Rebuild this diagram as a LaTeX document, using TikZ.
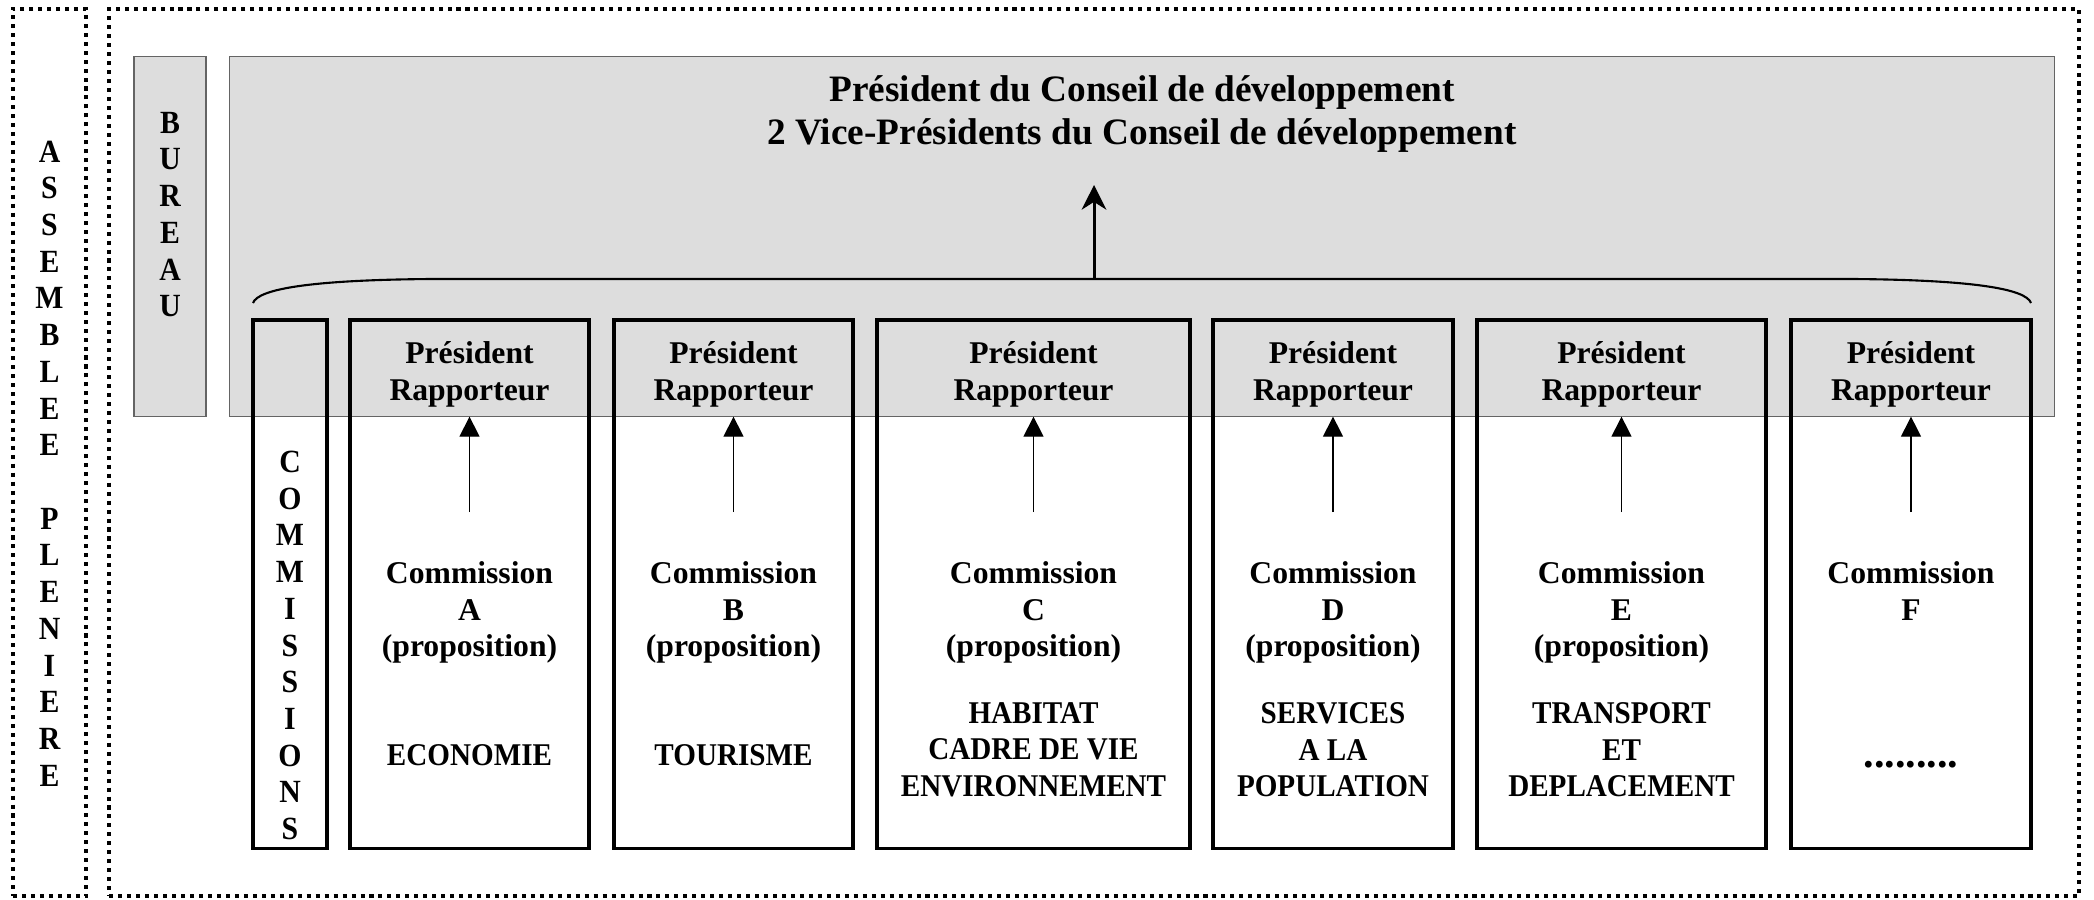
\documentclass[tikz,border=0pt]{standalone}
\usepackage{fontspec}
\setmainfont{Liberation Serif}
\newfontfamily\serifetroit[FakeStretch=0.92]{Liberation Serif}
\usetikzlibrary{arrows.meta}
\definecolor{grisfond}{RGB}{221,221,221}
\definecolor{grisbord}{RGB}{100,100,100}

\begin{document}
\begin{tikzpicture}[
  x=0.01cm, y=-0.01cm,
  cadre/.style={draw, line width=1.15pt, dash pattern=on 1.15pt off 1.4pt, minimum height=8.87cm, inner sep=0pt},
  gris/.style={draw=grisbord, line width=0.3pt, fill=grisfond, minimum height=3.59cm, inner sep=0pt},
  commbox/.style={draw, line width=0.95pt, minimum height=5.28cm, inner sep=0pt},
  lettres/.style={font=\fontsize{9.2}{10.44}\selectfont\serifetroit\bfseries, align=center, inner sep=0pt},
  texte/.style={font=\fontsize{9}{10.44}\selectfont\bfseries, align=center, inner sep=0pt},
  theme/.style={font=\fontsize{9}{10.44}\selectfont\serifetroit\bfseries, align=center, inner sep=0pt},
  titre/.style={font=\fontsize{10.6}{12.23}\selectfont\bfseries, align=center, inner sep=0pt},
  petitefleche/.style={-{Triangle[length=5.7pt, width=5.7pt]}, line width=0.37pt},
  grandefleche/.style={-{Stealth[length=7pt, width=7pt, inset=2.2pt]}, line width=0.85pt},
  accolade/.style={line width=0.6pt},
]
\useasboundingbox (0,0) rectangle (2094,899);

% Assemblee pleniere (dotted frames)
\node[cadre, minimum width=0.73cm] (assemblee) at (49.5,452.5) {};
\node[lettres] (assembleeTxt) at (49.5,463.5) {A\\S\\S\\E\\M\\B\\L\\E\\E\\~\\P\\L\\E\\N\\I\\E\\R\\E};
\node[cadre, minimum width=19.68cm] (pleniere) at (1094,452.5) {};

% Bureau
\node[gris, minimum width=0.72cm] (bureau) at (170,236.5) {};
\node[lettres] (bureauTxt) at (170,214.5) {B\\U\\R\\E\\A\\U};
\node[gris, minimum width=18.24cm] (conseil) at (1142,236.5) {};
\node[titre] (presidence) at (1142,114) {Président du Conseil de développement\\2 Vice-Présidents du Conseil de développement};

% Accolade and main arrow
\draw[accolade] (253,303) .. controls (258,289) and (310,280) .. (430,279) -- (1854,279) .. controls (1974,280) and (2026,289) .. (2031,303);
\coordinate (milieu) at (1094,279);
\coordinate (sommet) at (1094,185);
\draw[grandefleche] (milieu) -- (sommet);

% Commission boxes
\node[commbox, minimum width=0.74cm] (commissions) at (290,584) {};
\node[lettres] (commissionsTxt) at (290,645.5) {C\\O\\M\\M\\I\\S\\S\\I\\O\\N\\S};
\node[commbox, minimum width=2.39cm] (boxA) at (469.5,584) {};
\node[commbox, minimum width=2.39cm] (boxB) at (733.5,584) {};
\node[commbox, minimum width=3.13cm] (boxC) at (1033.5,584) {};
\node[commbox, minimum width=2.40cm] (boxD) at (1333,584) {};
\node[commbox, minimum width=2.89cm] (boxE) at (1621.5,584) {};
\node[commbox, minimum width=2.40cm] (boxF) at (1911,584) {};

% President rapporteur
\node[texte] (presA) at (469.5,374.4) {Président\\Rapporteur};
\node[texte] (presB) at (733.5,374.4) {Président\\Rapporteur};
\node[texte] (presC) at (1033.5,374.4) {Président\\Rapporteur};
\node[texte] (presD) at (1333,374.4) {Président\\Rapporteur};
\node[texte] (presE) at (1621.5,374.4) {Président\\Rapporteur};
\node[texte] (presF) at (1911,374.4) {Président\\Rapporteur};

% Commission names
\node[texte] (comA) at (469.5,612.6) {Commission\\A\\(proposition)};
\node[texte] (comB) at (733.5,612.6) {Commission\\B\\(proposition)};
\node[texte] (comC) at (1033.5,612.6) {Commission\\C\\(proposition)};
\node[texte] (comD) at (1333,612.6) {Commission\\D\\(proposition)};
\node[texte] (comE) at (1621.5,612.6) {Commission\\E\\(proposition)};
\node[texte] (comF) at (1911,591) {Commission\\F};

% Themes
\node[theme] (themeA) at (469.5,755) {ECONOMIE};
\node[theme] (themeB) at (733.5,755) {TOURISME};
\node[theme] (themeC) at (1033.5,749.7) {HABITAT\\CADRE DE VIE\\ENVIRONNEMENT};
\node[theme] (themeD) at (1333,749.7) {SERVICES\\A LA\\POPULATION};
\node[theme] (themeE) at (1621.5,749.7) {TRANSPORT\\ET\\DEPLACEMENT};
\node[texte, font=\fontsize{12}{13}\selectfont\bfseries, anchor=base] (themeF) at (1911,767) {.........};

% Arrows up to the bureau
\coordinate (piedA) at (469.5,512);
\coordinate (piedB) at (733.5,512);
\coordinate (piedC) at (1033.5,512);
\coordinate (piedD) at (1333,512);
\coordinate (piedE) at (1621.5,512);
\coordinate (piedF) at (1911,512);
\draw[petitefleche] (piedA) -- (piedA |- conseil.south);
\draw[petitefleche] (piedB) -- (piedB |- conseil.south);
\draw[petitefleche] (piedC) -- (piedC |- conseil.south);
\draw[petitefleche] (piedD) -- (piedD |- conseil.south);
\draw[petitefleche] (piedE) -- (piedE |- conseil.south);
\draw[petitefleche] (piedF) -- (piedF |- conseil.south);

\end{tikzpicture}
\end{document}
